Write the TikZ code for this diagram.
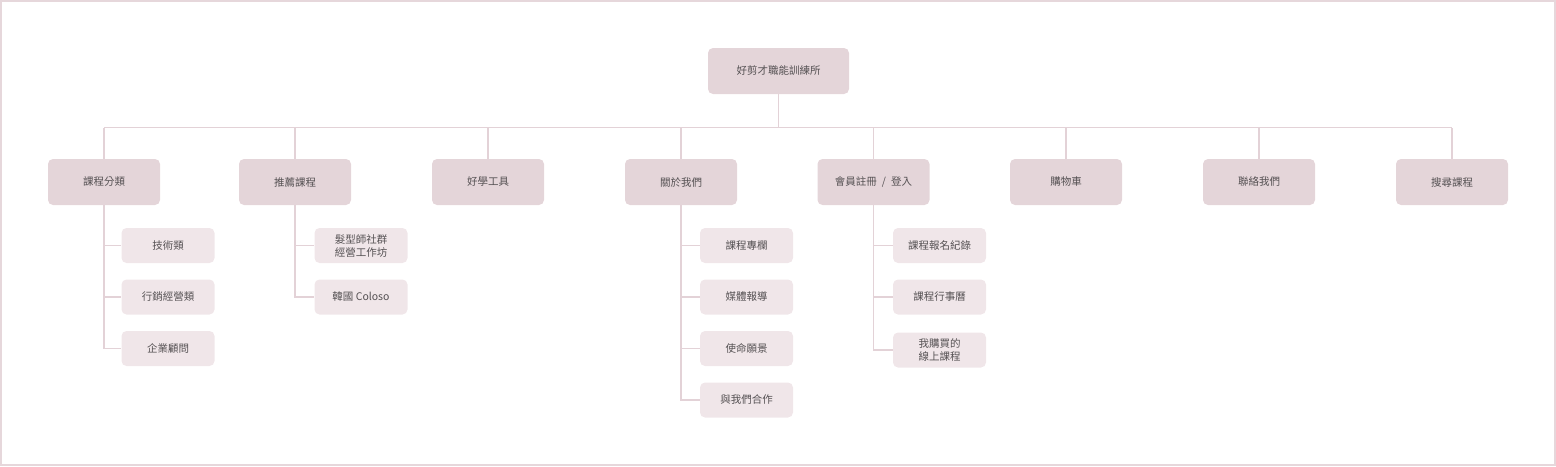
\documentclass[tikz,border=0pt]{standalone}
\usepackage{fontspec}
\setmainfont{Noto Sans CJK TC}
\definecolor{framec}{HTML}{E6D7DB}
\definecolor{topfill}{HTML}{E4D5D9}
\definecolor{subfill}{HTML}{F0E6E9}
\definecolor{linec}{HTML}{E3D2D7}
\definecolor{txt}{HTML}{555153}
\begin{document}
\begin{tikzpicture}[x=1pt,y=-1pt,
  topbox/.style={draw=none,fill=topfill,rounded corners=5pt,minimum width=112pt,minimum height=46pt,inner sep=0pt,text=txt,font=\fontsize{10.5}{13}\selectfont},
  rootbox/.style={topbox,minimum width=141pt},
  subbox/.style={draw=none,fill=subfill,rounded corners=5pt,minimum width=93pt,minimum height=35pt,inner sep=0pt,align=center,text=txt,font=\fontsize{10.5}{13}\selectfont},
  conn/.style={draw=linec,line width=1.3pt}]
\useasboundingbox (0,0) rectangle (1556,466);
\draw[framec,line width=2pt] (1,1) rectangle (1555,465);
% root
\node[rootbox] (root) at (778.5,71) {好剪才職能訓練所};
% level 1
\node[topbox] (a) at (104,182) {課程分類};
\node[topbox] (b) at (295,182) {推薦課程};
\node[topbox] (c) at (488,182) {好學工具};
\node[topbox] (d) at (681,182) {關於我們};
\node[topbox] (e) at (873.5,182) {會員註冊\hspace{5pt}/\hspace{5pt}登入};
\node[topbox] (f) at (1066,182) {購物車};
\node[topbox] (g) at (1259,182) {聯絡我們};
\node[topbox] (h) at (1452,182) {搜尋課程};
% level 2
\node[subbox] (a1) at (168,245.5) {技術類};
\node[subbox] (a2) at (168,297) {行銷經營類};
\node[subbox] (a3) at (168,348.5) {企業顧問};
\node[subbox] (b1) at (361,245.5) {髮型師社群\\經營工作坊};
\node[subbox] (b2) at (361,297) {韓國 Coloso};
\node[subbox] (d1) at (746.5,245.5) {課程專欄};
\node[subbox] (d2) at (746.5,297) {媒體報導};
\node[subbox] (d3) at (746.5,348.5) {使命願景};
\node[subbox] (d4) at (746.5,400) {與我們合作};
\node[subbox] (e1) at (939.5,245.5) {課程報名紀錄};
\node[subbox] (e2) at (939.5,297) {課程行事曆};
\node[subbox] (e3) at (939.5,350) {我購買的\\線上課程};
% bus
\coordinate (busL) at (104,127.5);
\coordinate (busR) at (1452,127.5);
\draw[conn] (busL) -- (busR);
\draw[conn] (root.south) -- (root.south |- busL);
\foreach \n in {a,b,c,d,e,f,g,h}{
  \draw[conn] (\n.north) -- (\n.north |- busL);
}
\foreach \p/\c in {a/a1,a/a2,a/a3,b/b1,b/b2,d/d1,d/d2,d/d3,d/d4,e/e1,e/e2,e/e3}{
  \draw[conn] (\p.south) |- (\c.west);
}
\end{tikzpicture}
\end{document}
